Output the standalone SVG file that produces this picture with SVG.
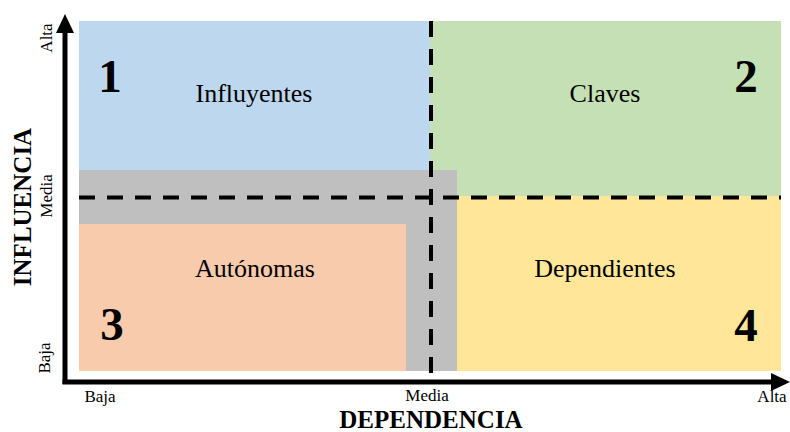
<svg xmlns="http://www.w3.org/2000/svg" width="790" height="432" viewBox="0 0 790 432">
<style>
.t{font-family:"Liberation Serif","Times New Roman",serif;fill:#000}
.q{font-size:26px;text-anchor:middle}
.n{font-size:47px;font-weight:bold;text-anchor:middle}
.s{font-size:17px;text-anchor:middle}
.b{font-size:25px;font-weight:bold;text-anchor:middle}
.dash{stroke:#000;stroke-width:4;stroke-dasharray:16 12;fill:none}
.ax{stroke:#000;stroke-width:5;fill:none}
</style>
<g id="q1"><rect x="79" y="21" width="352" height="150" fill="#BDD7EE"/></g>
<g id="q2"><rect x="430" y="21" width="351" height="176" fill="#C5E0B4"/></g>
<g id="q4"><rect x="457" y="196" width="324" height="175" fill="#FFE699"/></g>
<g id="q3"><rect x="79" y="224" width="327" height="147" fill="#F8CBAD"/></g>
<g id="media"><path d="M79,170 H457 V371 H406 V224 H79 Z" fill="#BFBFBF"/></g>
<g id="connectors">
<line class="dash" x1="79" y1="197.5" x2="781" y2="197.5"/>
<line class="dash" x1="431" y1="21" x2="431" y2="373"/>
<path d="M65,384 V32" class="ax"/>
<path d="M56,33 L65,14 L74,33 Z"/>
<path d="M62.5,382 H772" class="ax"/>
<path d="M771,373 L790,382 L771,391 Z"/>
</g>
<g id="labels1"><text class="t q" x="254" y="102">Influyentes</text><text class="t n" x="110" y="92">1</text></g>
<g id="labels2"><text class="t q" x="605" y="102">Claves</text><text class="t n" x="746" y="92">2</text></g>
<g id="labels3"><text class="t q" x="255" y="277">Autónomas</text><text class="t n" x="112" y="340">3</text></g>
<g id="labels4"><text class="t q" x="605" y="277">Dependientes</text><text class="t n" x="746" y="341">4</text></g>
<g id="axis-labels">
<text class="t s" transform="translate(52,38) rotate(-90)">Alta</text>
<text class="t s" transform="translate(52,196) rotate(-90)">Media</text>
<text class="t s" transform="translate(50,358) rotate(-90)">Baja</text>
<text class="t b" transform="translate(31,207) rotate(-90)">INFLUENCIA</text>
<text class="t s" x="100" y="402">Baja</text>
<text class="t s" x="427" y="401">Media</text>
<text class="t s" x="772" y="402">Alta</text>
<text class="t b" x="431" y="428">DEPENDENCIA</text>
</g>
</svg>
